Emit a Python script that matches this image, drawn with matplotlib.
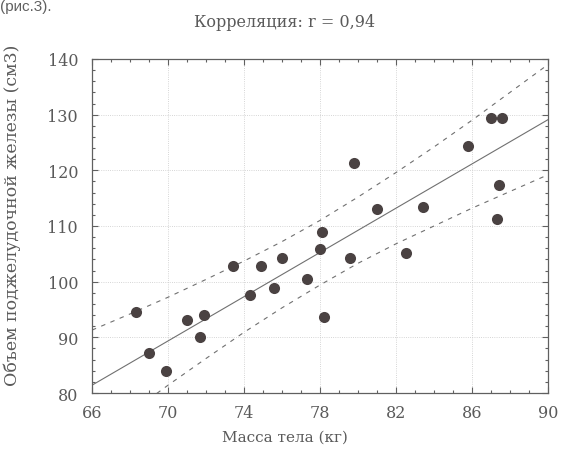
import matplotlib
matplotlib.use("Agg")
import matplotlib.pyplot as plt
from matplotlib.ticker import MultipleLocator

# data
body_mass = [68.3, 69.0, 69.9, 71.0, 71.7, 71.9, 73.4, 74.3, 74.9, 75.6,
             76.0, 77.3, 78.1, 78.0, 78.2, 79.6, 79.8, 81.0, 82.5, 83.4,
             85.8, 87.0, 87.6, 87.4, 87.3]
gland_volume = [94.6, 87.1, 84.0, 93.2, 90.0, 94.0, 102.9, 97.6, 102.9, 98.9,
                104.2, 100.5, 109.0, 105.9, 93.6, 104.3, 121.4, 113.0, 105.1, 113.5,
                124.4, 129.4, 129.4, 117.4, 111.3]

# regression line and its dashed bands (as drawn)
fit_x = [66, 90]
fit_y = [81.4, 129.1]
band_x = [66, 68, 70, 72, 74, 76, 78, 80, 82, 84, 86, 88, 90]
band_upper = [91.3, 94.2, 97.2, 100.4, 103.7, 107.2, 111.0, 115.2, 119.6, 124.2, 129.0, 134.0, 139.0]
band_lower = [71.5, 76.4, 81.4, 86.2, 90.9, 95.3, 99.4, 103.3, 106.8, 110.0, 113.2, 116.2, 119.2]

x_ticks = [66, 70, 74, 78, 82, 86, 90]
y_ticks = [80, 90, 100, 110, 120, 130, 140]

text_color = "#5a5a5a"
serif = "DejaVu Serif"

fig = plt.figure(figsize=(5.62, 4.52), dpi=100)
fig.patch.set_facecolor("white")
ax = fig.add_axes([0.1637, 0.1283, 0.8114, 0.739])

ax.plot(fit_x, fit_y, color="#707070", linewidth=0.8, zorder=2)
ax.plot(band_x, band_upper, color="#707070", linewidth=0.8,
        linestyle=(0, (4, 5)), zorder=2)
ax.plot(band_x, band_lower, color="#707070", linewidth=0.8,
        linestyle=(0, (4, 5)), zorder=2)
ax.plot(body_mass, gland_volume, "o", color="#4a4242", markersize=8,
        markeredgewidth=0, zorder=3)

ax.set_xlim(66, 90)
ax.set_ylim(80, 140)
ax.set_xticks(x_ticks)
ax.set_yticks(y_ticks)
ax.xaxis.set_minor_locator(MultipleLocator(1))
ax.yaxis.set_minor_locator(MultipleLocator(2))
ax.tick_params(which="both", direction="in", top=True, right=True,
               color="#606060", width=0.8)
ax.tick_params(which="major", length=4, labelsize=11.5, labelcolor=text_color)
ax.tick_params(axis="x", which="major", pad=8)
ax.tick_params(axis="y", which="major", pad=10)
ax.tick_params(which="minor", length=2.5)
for lab in ax.get_xticklabels() + ax.get_yticklabels():
    lab.set_fontfamily(serif)

ax.grid(which="major", linestyle=":", linewidth=0.6, color="#c8c8c8")
for s in ax.spines.values():
    s.set_color("#606060")
    s.set_linewidth(0.9)

ax.set_xlabel("Масса тела (кг)", fontsize=11, family=serif, color=text_color)
ax.xaxis.set_label_coords(0.423, -0.11)
ax.set_ylabel("Объем поджелудочной железы (см3)", fontsize=12.5, family=serif,
              color=text_color)
ax.yaxis.set_label_coords(-0.155, 0.536)

fig.text(0.507, 0.951, "Корреляция: r = 0,94", fontsize=11.5, family=serif,
         color=text_color, ha="center", va="center")

# fragment of the page text above the figure
fig.text(0.0, 1.0, "(рис.3).", fontsize=11, color="#606060",
         family="Liberation Sans", va="top", ha="left")

fig.savefig("out.png", dpi=100)
